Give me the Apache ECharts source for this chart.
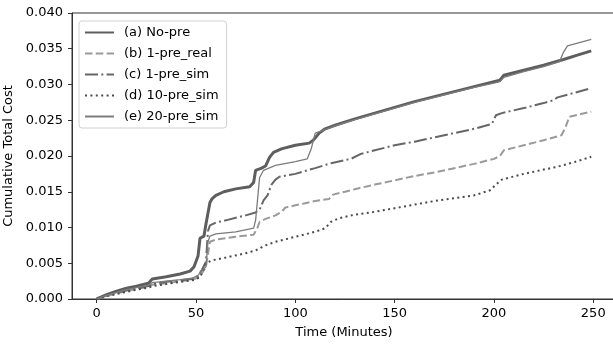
<!DOCTYPE html>
<html>
<head>
<meta charset="utf-8">
<script src="https://cdn.jsdelivr.net/npm/echarts@6/dist/echarts.min.js"></script>
<style>
  html, body { margin: 0; padding: 0; background: #fff; }
  #chart { width: 613px; height: 345px; }
</style>
</head>
<body>
<div id="chart"></div>
<script>
// [time in minutes, cumulative cost]
const noPre = [[0,0],[5,0.0006],[10,0.0011],[15,0.0015],[20,0.0018],[26,0.0022],[28,0.0028],[35,0.0031],[42,0.0035],[47,0.0039],[49,0.0045],[51,0.0060],[52,0.0085],[54,0.0088],[55,0.0105],[57,0.0135],[58,0.0140],[60,0.0145],[64,0.0150],[70,0.0154],[77,0.0157],[79,0.0163],[80,0.0180],[83,0.0183],[85,0.0186],[87,0.0198],[89,0.0205],[93,0.0210],[100,0.0215],[107,0.0218],[109,0.0222],[112,0.0232],[115,0.0238],[120,0.0243],[130,0.0252],[140,0.0260],[150,0.0268],[160,0.0276],[170,0.0283],[180,0.0290],[190,0.0297],[200,0.0304],[203,0.0306],[205,0.0313],[215,0.0320],[225,0.0327],[235,0.0335],[242,0.0341],[249,0.0347]];
const pre1Real = [[0,0],[5,0.0004],[10,0.0008],[15,0.0011],[20,0.0014],[26,0.0017],[28,0.0020],[35,0.0022],[42,0.0025],[48,0.0027],[51,0.0030],[53,0.0036],[55,0.0045],[57,0.0080],[60,0.0083],[70,0.0087],[79,0.0090],[81,0.0100],[82,0.0108],[85,0.0112],[90,0.0117],[93,0.0122],[95,0.0128],[100,0.0131],[105,0.0134],[110,0.0137],[117,0.0140],[119,0.0146],[125,0.0150],[132,0.0155],[140,0.0160],[150,0.0166],[160,0.0172],[170,0.0177],[180,0.0183],[190,0.0189],[200,0.0196],[203,0.0200],[205,0.0208],[215,0.0215],[225,0.0222],[234,0.0229],[236,0.0240],[238,0.0255],[249,0.0262]];
const pre1Sim = [[0,0],[5,0.0005],[10,0.0009],[15,0.0012],[20,0.0015],[26,0.0018],[28,0.0021],[35,0.0024],[42,0.0026],[48,0.0028],[51,0.0032],[53,0.0041],[55,0.0052],[56,0.0095],[57,0.0103],[60,0.0107],[65,0.0110],[75,0.0117],[80,0.0121],[82,0.0125],[84,0.0138],[86,0.0145],[88,0.0160],[90,0.0167],[92,0.0171],[100,0.0175],[106,0.0180],[110,0.0183],[118,0.0190],[128,0.0196],[133,0.0203],[140,0.0208],[150,0.0215],[160,0.0220],[170,0.0226],[180,0.0232],[190,0.0238],[199,0.0245],[201,0.0257],[204,0.0260],[215,0.0267],[225,0.0274],[230,0.0278],[232,0.0282],[240,0.0288],[249,0.0295]];
const pre10Sim = [[0,0],[5,0.0004],[10,0.0007],[15,0.0010],[20,0.0013],[26,0.0016],[28,0.0018],[35,0.0021],[42,0.0024],[48,0.0026],[52,0.0030],[54,0.0043],[55,0.0050],[58,0.0054],[65,0.0058],[75,0.0064],[80,0.0068],[85,0.0075],[90,0.0080],[100,0.0087],[110,0.0094],[115,0.0099],[118,0.0108],[122,0.0113],[130,0.0118],[140,0.0122],[150,0.0127],[160,0.0132],[170,0.0137],[180,0.0141],[190,0.0145],[198,0.0152],[201,0.0160],[204,0.0167],[215,0.0175],[225,0.0181],[232,0.0185],[240,0.0191],[249,0.0199]];
const pre20Sim = [[0,0],[5,0.0005],[10,0.0009],[15,0.0013],[20,0.0016],[26,0.0019],[28,0.0023],[35,0.0025],[42,0.0027],[48,0.0029],[51,0.0033],[53,0.0040],[55,0.0045],[56,0.0080],[57,0.0088],[60,0.0091],[70,0.0094],[79,0.0099],[80,0.0110],[82,0.0170],[84,0.0180],[90,0.0187],[100,0.0192],[106,0.0196],[108,0.0210],[110,0.0232],[115,0.0237],[120,0.0242],[130,0.0251],[140,0.0259],[150,0.0267],[160,0.0275],[170,0.0282],[180,0.0289],[190,0.0296],[200,0.0302],[203,0.0304],[205,0.0310],[215,0.0318],[225,0.0325],[233,0.0332],[235,0.0345],[237,0.0354],[249,0.0363]];

const seriesNames = ['(a) No-pre', '(b) 1-pre_real', '(c) 1-pre_sim', '(d) 10-pre_sim', '(e) 20-pre_sim'];
const xTicks = [0, 50, 100, 150, 200, 250];

const font = 'DejaVu Sans';
let myChart = echarts.init(document.getElementById('chart'));

function line(name, data, color, width, dash) {
    return {
        name: name,
        type: 'line',
        data: data,
        symbol: 'none',
        animation: false,
        lineStyle: { color: color, width: width, type: dash },
        itemStyle: { color: color }
    };
}

let option = {
    animation: false,
    grid: {
        left: 72, top: 13, width: 544, height: 286,
        outerBoundsMode: 'none',
        show: true, borderColor: '#333', borderWidth: 1
    },
    legend: {
        orient: 'vertical',
        left: 79, top: 21,
        itemWidth: 29, itemHeight: 13, itemGap: 8,
        padding: [5, 8, 5, 5],
        backgroundColor: 'rgba(255,255,255,0.8)',
        borderColor: '#d0d0d0', borderWidth: 1, borderRadius: 3,
        itemStyle: { opacity: 0 },
        textStyle: { fontFamily: font, fontSize: 13, color: '#000', padding: [0, 0, 0, 5] },
        data: seriesNames
    },
    xAxis: {
        type: 'value',
        min: -12.45, max: 261.45,
        name: 'Time (Minutes)',
        nameLocation: 'middle', nameGap: 27,
        nameTextStyle: { fontFamily: font, fontSize: 13, color: '#000' },
        splitLine: { show: false },
        axisLine: { onZero: false, lineStyle: { color: '#333', width: 1 } },
        axisTick: { customValues: xTicks, length: 4, lineStyle: { color: '#333' } },
        axisLabel: { customValues: xTicks, margin: 8, fontFamily: font, fontSize: 13, color: '#000' }
    },
    yAxis: {
        type: 'value',
        min: 0, max: 0.04, interval: 0.005,
        name: 'Cumulative Total Cost',
        nameLocation: 'middle', nameGap: 46,
        nameTextStyle: { fontFamily: font, fontSize: 13, color: '#000' },
        splitLine: { show: false },
        axisLine: { show: true, onZero: false, lineStyle: { color: '#333', width: 1 } },
        axisTick: { show: true, length: 4, lineStyle: { color: '#333' } },
        axisLabel: {
            margin: 9, fontFamily: font, fontSize: 13, color: '#000',
            formatter: v => v.toFixed(3)
        }
    },
    series: [
        line(seriesNames[0], noPre, '#5e5e5e', 3, 'solid'),
        line(seriesNames[1], pre1Real, '#9a9a9a', 2, [7.5, 3.3]),
        line(seriesNames[2], pre1Sim, '#666666', 2, [13, 3.3, 2, 3.3]),
        line(seriesNames[3], pre10Sim, '#4a4a4a', 2, [2, 3.4]),
        line(seriesNames[4], pre20Sim, '#7c7c7c', 1.3, 'solid')
    ]
};
myChart.setOption(option, true);
</script>
</body>
</html>
